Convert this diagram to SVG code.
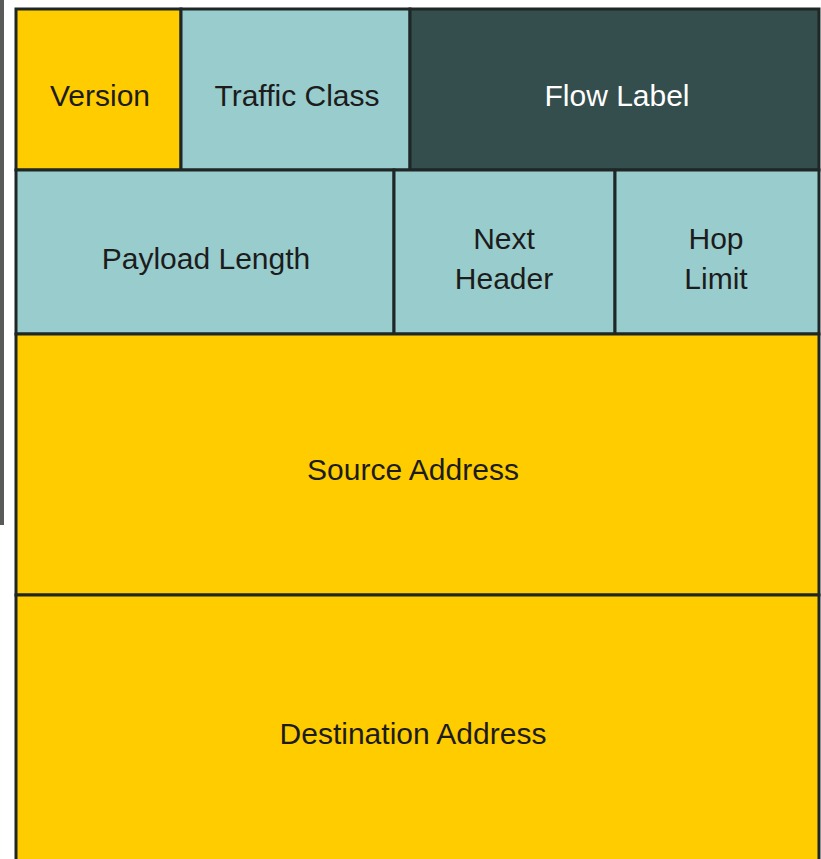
<svg xmlns="http://www.w3.org/2000/svg" width="821" height="859" viewBox="0 0 821 859">
<style>
.c{stroke:#1e2626;stroke-width:3}
.y{fill:#ffcc00}
.t{fill:#99cccc}
.d{fill:#344d4d}
text{font-family:"Liberation Sans",Arial,sans-serif;font-size:30px;fill:#1c1c1c;text-anchor:middle;dominant-baseline:central}
.w{fill:#ffffff}
</style>
<rect x="0" y="0" width="821" height="859" fill="#ffffff"/>
<rect x="0" y="0" width="4" height="525" fill="#5a5a5a"/>
<g id="version"><rect class="c y" x="16" y="9" width="165" height="161"/><text x="100" y="95">Version</text></g>
<g id="traffic-class"><rect class="c t" x="181" y="9" width="229" height="161"/><text x="297" y="95">Traffic Class</text></g>
<g id="flow-label"><rect class="c d" x="410" y="9" width="409" height="161"/><text class="w" x="617" y="95">Flow Label</text></g>
<g id="payload-length"><rect class="c t" x="16" y="170" width="378" height="164"/><text x="206" y="258">Payload Length</text></g>
<g id="next-header"><rect class="c t" x="394" y="170" width="221" height="164"/><text x="504" y="238">Next</text><text x="504" y="278">Header</text></g>
<g id="hop-limit"><rect class="c t" x="615" y="170" width="204" height="164"/><text x="716" y="238">Hop</text><text x="716" y="278">Limit</text></g>
<g id="source-address"><rect class="c y" x="16" y="334" width="803" height="261"/><text x="413" y="469">Source Address</text></g>
<g id="destination-address"><rect class="c y" x="16" y="595" width="803" height="270"/><text x="413" y="733">Destination Address</text></g>
<g id="connectors"></g>
</svg>
